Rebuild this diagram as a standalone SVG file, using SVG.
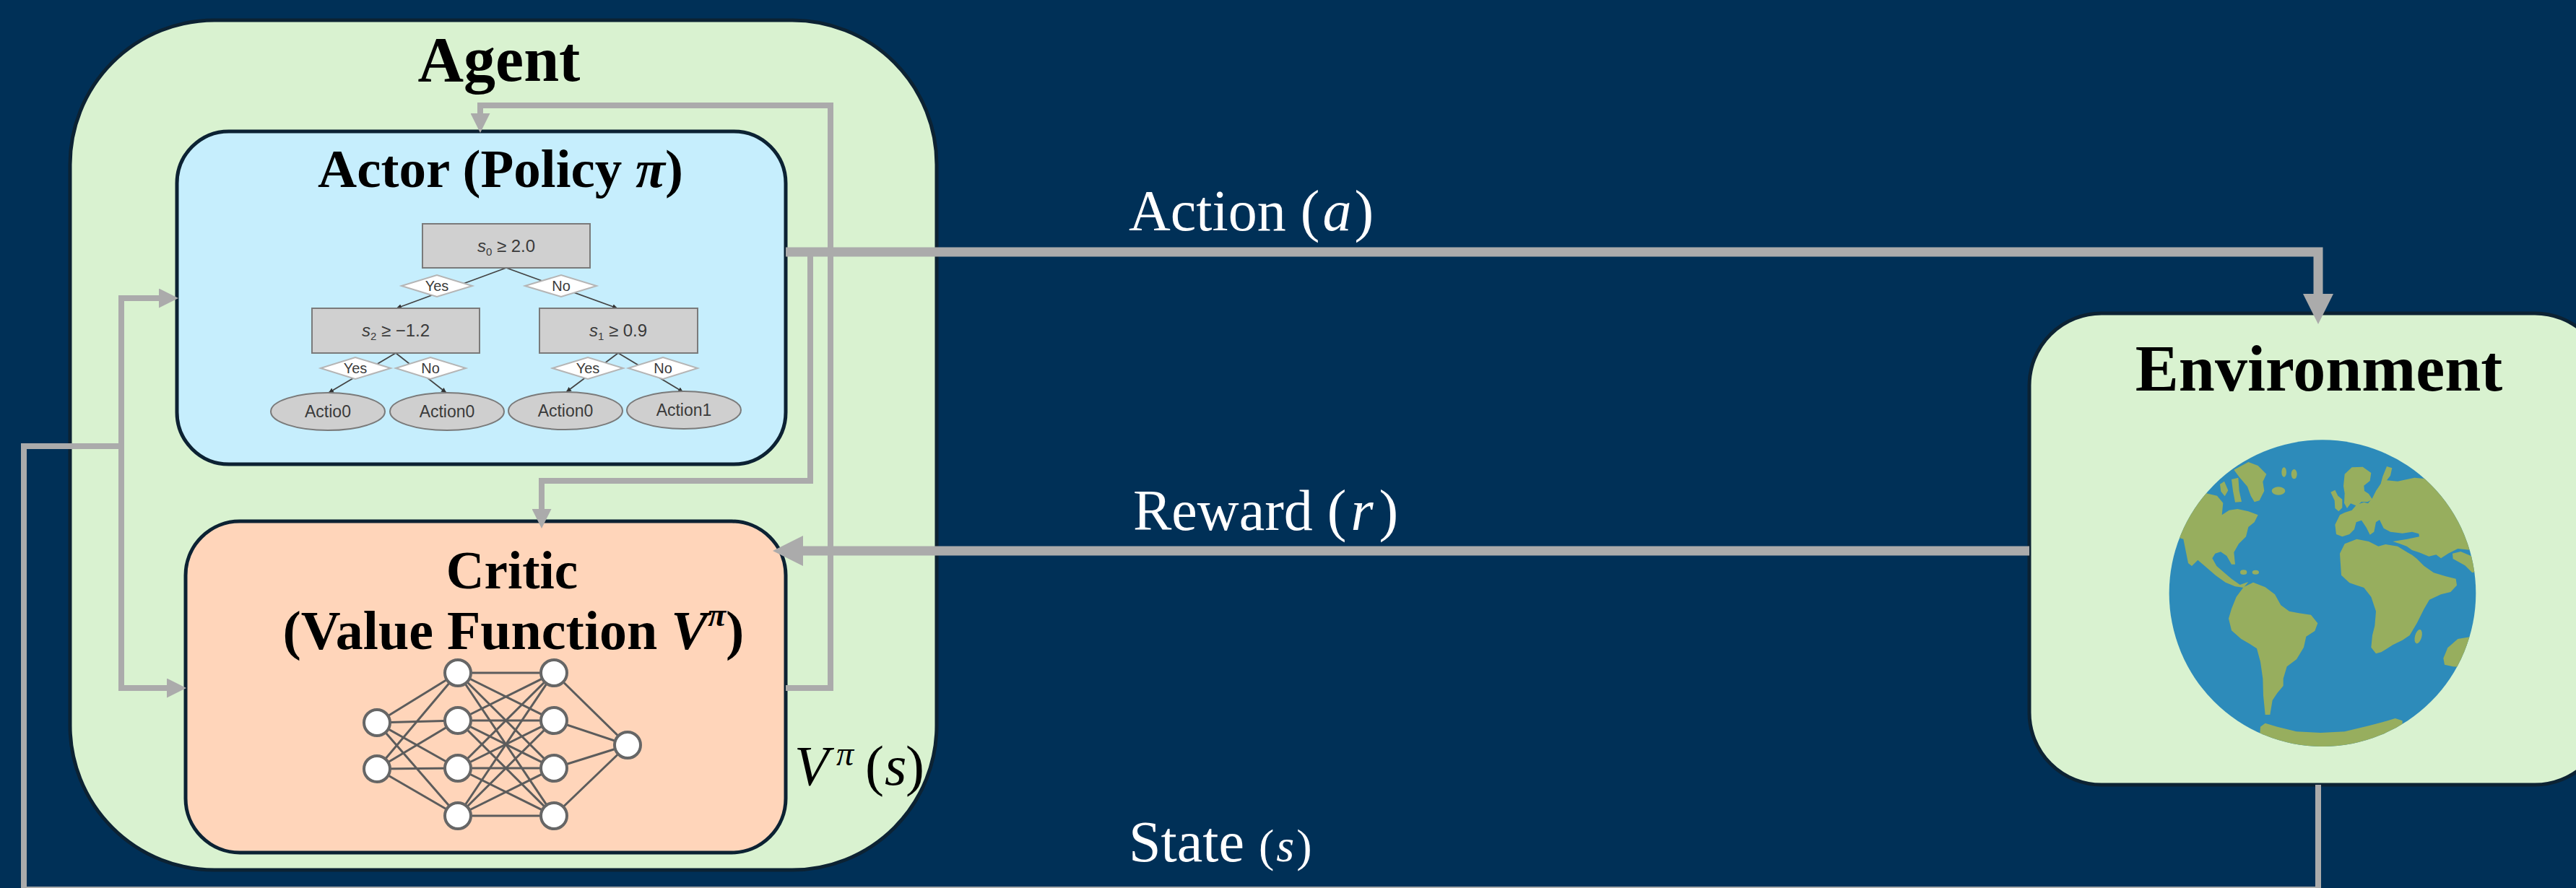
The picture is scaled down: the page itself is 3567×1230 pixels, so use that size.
<svg xmlns="http://www.w3.org/2000/svg" width="3567" height="1230" viewBox="0 0 3567 1230">
  <defs>
    <style>
      .panel { stroke: #0c2233; stroke-width: 5; }
      .title { font-family: "Liberation Serif", "Times New Roman", serif; font-weight: bold; fill: #000; }
      .label { font-family: "Liberation Serif", "Times New Roman", serif; font-size: 80px; fill: #fff; }
      .conn { fill: none; stroke: #ABABAB; stroke-linejoin: miter; }
      .thick { stroke-width: 13; }
      .thin { stroke-width: 8; }
      .tnode { fill: #D0D0D0; stroke: #7a7a7a; stroke-width: 2; }
      .tleaf { fill: #CFCFCF; stroke: #7a7a7a; stroke-width: 2; }
      .tdia { fill: #fff; stroke: #b5b5b5; stroke-width: 2; }
      .tline { stroke: #444; stroke-width: 1.8; fill: none; }
      .ttext { font-family: "Liberation Sans Narrow", "Liberation Sans", sans-serif; fill: #3a3a3a; text-anchor: middle; }
      .nnline { stroke: #5c5c5c; stroke-width: 3; }
      .nnnode { fill: #fff; stroke: #666; stroke-width: 4; }
      .land { fill: #97AE5E; }
    </style>
    <marker id="arrow-lg" markerUnits="userSpaceOnUse" markerWidth="42" markerHeight="42" viewBox="0 0 42 42" refX="0" refY="21" orient="auto">
      <path d="M0,0 L42,21 L0,42 Z" fill="#ABABAB"/>
    </marker>
    <marker id="arrow-sm" markerUnits="userSpaceOnUse" markerWidth="27" markerHeight="27" viewBox="0 0 27 27" refX="0" refY="13.5" orient="auto">
      <path d="M0,0 L27,13.5 L0,27 Z" fill="#ABABAB"/>
    </marker>
    <marker id="tip" markerUnits="userSpaceOnUse" markerWidth="7" markerHeight="7" viewBox="0 0 7 7" refX="7" refY="3.5" orient="auto">
      <path d="M0,0 L7,3.5 L0,7 Z" fill="#333"/>
    </marker>
    <clipPath id="globe-clip" clipPathUnits="userSpaceOnUse">
      <circle cx="708" cy="725" r="637"/>
    </clipPath>
  </defs>

  <!-- backdrop -->
  <rect x="0" y="0" width="3567" height="1230" fill="#003057"/>

  <!-- Agent container -->
  <g id="agent">
    <rect class="panel" x="97" y="28" width="1200" height="1177" rx="200" ry="200" fill="#D9F2D0"/>
    <text class="title" x="691" y="112" font-size="88" text-anchor="middle">Agent</text>
  </g>

  <!-- Actor with its decision tree -->
  <g id="actor">
    <rect class="panel" x="245" y="182" width="843" height="461" rx="72" ry="72" fill="#C6EEFD"/>
    <text class="title" x="693" y="259" font-size="75" text-anchor="middle">Actor (Policy <tspan font-style="italic">π</tspan>)</text>

    <g id="policy-tree">
      <!-- branches -->
      <line class="tline" x1="701" y1="371" x2="549" y2="427" marker-end="url(#tip)"/>
      <line class="tline" x1="701" y1="371" x2="855" y2="427" marker-end="url(#tip)"/>
      <line class="tline" x1="548" y1="489" x2="455" y2="544" marker-end="url(#tip)"/>
      <line class="tline" x1="548" y1="489" x2="618" y2="544" marker-end="url(#tip)"/>
      <line class="tline" x1="856" y1="489" x2="784" y2="543" marker-end="url(#tip)"/>
      <line class="tline" x1="856" y1="489" x2="946" y2="543" marker-end="url(#tip)"/>

      <!-- split nodes -->
      <rect class="tnode" x="585" y="310" width="232" height="61"/>
      <text class="ttext" x="701" y="349" font-size="24"><tspan font-style="italic">s</tspan><tspan font-size="15" dy="5">0</tspan><tspan dy="-5"> ≥ 2.0</tspan></text>
      <rect class="tnode" x="432" y="427" width="232" height="62"/>
      <text class="ttext" x="548" y="466" font-size="24"><tspan font-style="italic">s</tspan><tspan font-size="15" dy="5">2</tspan><tspan dy="-5"> ≥ −1.2</tspan></text>
      <rect class="tnode" x="747" y="427" width="219" height="62"/>
      <text class="ttext" x="856" y="466" font-size="24"><tspan font-style="italic">s</tspan><tspan font-size="15" dy="5">1</tspan><tspan dy="-5"> ≥ 0.9</tspan></text>

      <!-- yes / no tags -->
      <polygon class="tdia" points="556,396 605,381 654,396 605,411"/>
      <text class="ttext" x="605" y="403" font-size="20">Yes</text>
      <polygon class="tdia" points="727,396 777,381 826,396 777,411"/>
      <text class="ttext" x="777" y="403" font-size="20">No</text>
      <polygon class="tdia" points="444,510 492,495 541,510 492,525"/>
      <text class="ttext" x="492" y="517" font-size="20">Yes</text>
      <polygon class="tdia" points="548,510 596,495 645,510 596,525"/>
      <text class="ttext" x="596" y="517" font-size="20">No</text>
      <polygon class="tdia" points="765,510 814,495 863,510 814,525"/>
      <text class="ttext" x="814" y="517" font-size="20">Yes</text>
      <polygon class="tdia" points="870,510 918,495 966,510 918,525"/>
      <text class="ttext" x="918" y="517" font-size="20">No</text>

      <!-- leaves -->
      <ellipse class="tleaf" cx="454" cy="570" rx="79" ry="26"/>
      <text class="ttext" x="454" y="578" font-size="23">Actio0</text>
      <ellipse class="tleaf" cx="619" cy="570" rx="79" ry="26"/>
      <text class="ttext" x="619" y="578" font-size="23">Action0</text>
      <ellipse class="tleaf" cx="783" cy="569" rx="79" ry="26"/>
      <text class="ttext" x="783" y="577" font-size="23">Action0</text>
      <ellipse class="tleaf" cx="947" cy="568" rx="79" ry="26"/>
      <text class="ttext" x="947" y="576" font-size="23">Action1</text>
    </g>
  </g>

  <!-- Critic with its value network -->
  <g id="critic">
    <rect class="panel" x="257" y="722" width="831" height="459" rx="75" ry="75" fill="#FFD5BA"/>
    <text class="title" x="709" y="815" font-size="73" text-anchor="middle">Critic</text>
    <text class="title" x="711" y="899" font-size="76" text-anchor="middle">(Value Function <tspan font-style="italic">V</tspan><tspan font-size="46" dy="-32" font-style="italic">π</tspan><tspan dy="32">)</tspan></text>

    <g id="value-net">
      <g class="nnline">
        <!-- input to hidden 1 -->
        <line x1="522" y1="1001" x2="634" y2="932"/><line x1="522" y1="1001" x2="634" y2="998"/>
        <line x1="522" y1="1001" x2="634" y2="1064"/><line x1="522" y1="1001" x2="634" y2="1130"/>
        <line x1="522" y1="1065" x2="634" y2="932"/><line x1="522" y1="1065" x2="634" y2="998"/>
        <line x1="522" y1="1065" x2="634" y2="1064"/><line x1="522" y1="1065" x2="634" y2="1130"/>
        <!-- hidden 1 to hidden 2 -->
        <line x1="634" y1="932" x2="767" y2="932"/><line x1="634" y1="932" x2="767" y2="998"/>
        <line x1="634" y1="932" x2="767" y2="1064"/><line x1="634" y1="932" x2="767" y2="1130"/>
        <line x1="634" y1="998" x2="767" y2="932"/><line x1="634" y1="998" x2="767" y2="998"/>
        <line x1="634" y1="998" x2="767" y2="1064"/><line x1="634" y1="998" x2="767" y2="1130"/>
        <line x1="634" y1="1064" x2="767" y2="932"/><line x1="634" y1="1064" x2="767" y2="998"/>
        <line x1="634" y1="1064" x2="767" y2="1064"/><line x1="634" y1="1064" x2="767" y2="1130"/>
        <line x1="634" y1="1130" x2="767" y2="932"/><line x1="634" y1="1130" x2="767" y2="998"/>
        <line x1="634" y1="1130" x2="767" y2="1064"/><line x1="634" y1="1130" x2="767" y2="1130"/>
        <!-- hidden 2 to output -->
        <line x1="767" y1="932" x2="869" y2="1032"/><line x1="767" y1="998" x2="869" y2="1032"/>
        <line x1="767" y1="1064" x2="869" y2="1032"/><line x1="767" y1="1130" x2="869" y2="1032"/>
      </g>
      <circle class="nnnode" cx="522" cy="1001" r="18"/>
      <circle class="nnnode" cx="522" cy="1065" r="18"/>
      <circle class="nnnode" cx="634" cy="932" r="18"/>
      <circle class="nnnode" cx="634" cy="998" r="18"/>
      <circle class="nnnode" cx="634" cy="1064" r="18"/>
      <circle class="nnnode" cx="634" cy="1130" r="18"/>
      <circle class="nnnode" cx="767" cy="932" r="18"/>
      <circle class="nnnode" cx="767" cy="998" r="18"/>
      <circle class="nnnode" cx="767" cy="1064" r="18"/>
      <circle class="nnnode" cx="767" cy="1130" r="18"/>
      <circle class="nnnode" cx="869" cy="1032" r="18"/>
    </g>
  </g>

  <!-- Environment with globe -->
  <g id="environment">
    <rect class="panel" x="2810" y="434" width="800" height="653" rx="100" ry="100" fill="#D9F2D0"/>
    <text class="title" x="3211" y="541" font-size="90" text-anchor="middle">Environment</text>
    <g id="globe" transform="translate(2980,580) scale(0.33333)">
      <circle cx="708" cy="725" r="637" fill="#2D8BBA"/>
      <g clip-path="url(#globe-clip)">
        <!-- North and Central America -->
        <path class="land" d="M60,300 L225,310 L270,320 L295,350 L290,400 L320,380 L355,375 L400,385 L440,400 L425,430 L400,450 L390,490 L360,520 L340,555 L345,605 L330,605 L310,570 L285,553 L262,560 L250,580 L268,612 L300,640 L330,665 L365,690 L400,678 L380,702 L345,697 L305,680 L265,652 L225,617 L190,587 L165,612 L150,600 L130,500 L60,480 Z"/>
        <!-- Arctic islands and Greenland -->
        <path class="land" d="M282,272 L300,260 L316,298 L302,322 L286,302 Z"/>
        <path class="land" d="M330,252 L358,245 L362,300 L372,345 L345,347 L336,300 Z"/>
        <path class="land" d="M340,212 L400,180 L440,195 L475,230 L460,262 L466,300 L446,340 L425,346 L410,320 L396,282 L362,242 Z"/>
        <ellipse class="land" cx="548" cy="222" rx="10" ry="20"/>
        <ellipse class="land" cx="590" cy="230" rx="12" ry="20"/>
        <ellipse class="land" cx="525" cy="300" rx="28" ry="17"/>
        <ellipse class="land" cx="380" cy="638" rx="14" ry="10"/>
        <ellipse class="land" cx="430" cy="638" rx="14" ry="9"/>
        <!-- South America -->
        <path class="land" d="M330,790 L350,740 L380,700 L420,680 L470,700 L510,730 L535,775 L570,800 L610,808 L660,815 L688,850 L676,882 L640,905 L630,950 L600,1000 L560,1030 L545,1080 L545,1110 L520,1140 L500,1170 L490,1230 L470,1230 L462,1150 L460,1080 L450,1010 L435,955 L405,935 L370,915 L330,880 L318,830 Z"/>
        <!-- British isles and Scandinavia -->
        <path class="land" d="M742,305 L760,296 L772,320 L790,335 L790,370 L775,385 L760,372 L758,340 Z"/>
        <path class="land" d="M800,230 L830,202 L875,200 L910,225 L905,258 L880,278 L882,300 L900,312 L915,335 L895,346 L870,345 L850,362 L825,352 L810,372 L798,350 L800,310 L795,280 Z"/>
        <!-- Eurasia -->
        <path class="land" d="M760,440 L780,400 L800,390 L830,380 L850,357 L880,347 L897,352 L915,330 L930,300 L950,270 L958,240 L975,198 L997,205 L990,236 L975,256 L1020,260 L1090,245 L1140,250 L1400,340 L1400,620 L1330,640 L1300,610 L1250,582 L1248,560 L1282,552 L1330,572 L1320,545 L1270,540 L1230,560 L1200,580 L1180,565 L1150,572 L1110,556 L1080,546 L1058,530 L1030,520 L1000,510 L1060,500 L1110,490 L1108,478 L1080,470 L1040,476 L990,470 L962,455 L945,420 L930,430 L922,470 L905,482 L890,452 L870,422 L848,430 L840,460 L820,480 L790,490 L765,480 Z"/>
        <!-- Africa -->
        <path class="land" d="M780,560 L800,520 L850,500 L900,510 L940,530 L970,522 L1020,530 L1060,555 L1080,566 L1100,582 L1130,612 L1170,640 L1220,655 L1262,665 L1266,692 L1240,720 L1200,730 L1152,752 L1130,790 L1100,850 L1070,900 L1040,920 L1000,940 L952,970 L930,976 L910,950 L915,900 L925,860 L930,800 L910,740 L880,702 L850,692 L820,682 L786,650 Z"/>
        <ellipse class="land" cx="1106" cy="905" rx="14" ry="30" transform="rotate(15 1106 905)"/>
        <!-- Australia edge -->
        <path class="land" d="M1210,995 L1228,952 L1270,915 L1330,905 L1330,1035 L1250,1030 L1215,1022 Z"/>
        <!-- Antarctica -->
        <path class="land" d="M450,1280 L470,1265 L520,1280 L600,1300 L700,1305 L800,1300 L900,1276 L960,1260 L1010,1245 L1040,1255 L1040,1420 L440,1420 Z"/>
      </g>
    </g>
  </g>

  <!-- Connectors -->
  <g id="connectors">
    <!-- action to environment -->
    <path class="conn thick" d="M1088,349 H3210 V407" marker-end="url(#arrow-lg)"/>
    <!-- reward to critic -->
    <path class="conn thick" d="M2810,763 H1112" marker-end="url(#arrow-lg)"/>
    <!-- action fed to critic -->
    <path class="conn thin" d="M1122,355 V666 H750 V705" marker-end="url(#arrow-sm)"/>
    <!-- value estimate back to actor -->
    <path class="conn thin" d="M1088,953 H1150 V146 H665 V157" marker-end="url(#arrow-sm)"/>
    <!-- state loop -->
    <path class="conn thin" d="M3210,1087 V1232 H33 V618 H172"/>
    <path class="conn thin" d="M168,622 V413 H220" marker-end="url(#arrow-sm)"/>
    <path class="conn thin" d="M168,614 V953 H231" marker-end="url(#arrow-sm)"/>
  </g>

  <!-- Connector labels -->
  <g id="labels">
    <text class="label" x="1563" y="319">Action (<tspan font-style="italic" dx="4">a</tspan><tspan dx="4">)</tspan></text>
    <text class="label" x="1569" y="734">Reward (<tspan font-style="italic" dx="6">r</tspan><tspan dx="8">)</tspan></text>
    <text class="label" x="1563" y="1193">State <tspan font-size="64">(<tspan font-style="italic" dx="3">s</tspan><tspan dx="3">)</tspan></tspan></text>
    <text y="1087" font-family="'Liberation Serif', 'Times New Roman', serif" font-size="78" fill="#000"><tspan x="1100" font-style="italic">V</tspan><tspan x="1158" y="1060" font-size="48" font-style="italic">π</tspan><tspan x="1198" y="1087">(</tspan><tspan x="1225" font-style="italic">s</tspan><tspan x="1254">)</tspan></text>
  </g>
</svg>
